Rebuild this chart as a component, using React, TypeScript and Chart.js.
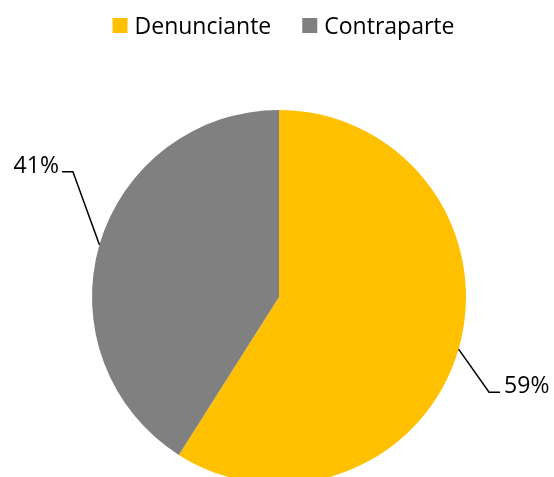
import React, { useEffect, useRef } from "react";
import { Chart, registerables } from "chart.js";

Chart.register(...registerables);

// ---- data ----
const categories = ["Denunciante", "Contraparte"];
const values = [59, 41];
const sliceColors = ["#FFC000", "#808080"];

const FONT = '"Open Sans", "Noto Sans", sans-serif';

// leader-line geometry per slice (layout only)
const leaderLayout = [
  { dx: 30.5, dy: 43, h: 11 },
  { dx: -26.5, dy: -73, h: -11 },
];

const topLegend = {
  id: "topLegend",
  afterDraw(chart: any) {
    const ctx = chart.ctx;
    const labels: string[] = chart.data.labels;
    const bg: string[] = chart.data.datasets[0].backgroundColor;
    ctx.save();
    ctx.font = `23px ${FONT}`;
    const box = 15;
    const gapText = 7;
    const gapItem = 31;
    const widths = labels.map((l) => box + gapText + ctx.measureText(l).width);
    const total = widths.reduce((a, b) => a + b, 0) + gapItem * (labels.length - 1);
    let x = chart.width / 2 + 6.5 - total / 2;
    const boxTop = 18;
    const baseline = 33.5;
    labels.forEach((l, i) => {
      ctx.fillStyle = bg[i];
      ctx.fillRect(x, boxTop, box, box);
      ctx.fillStyle = "#000";
      ctx.textBaseline = "alphabetic";
      ctx.textAlign = "left";
      ctx.fillText(l, x + box + gapText, baseline);
      x += widths[i] + gapItem;
    });
    ctx.restore();
  },
};

const leaderLabels = {
  id: "leaderLabels",
  afterDatasetsDraw(chart: any) {
    const ctx = chart.ctx;
    const meta = chart.getDatasetMeta(0);
    const data: number[] = chart.data.datasets[0].data;
    const total = data.reduce((a, b) => a + b, 0);
    ctx.save();
    ctx.font = `23px ${FONT}`;
    ctx.strokeStyle = "#000";
    ctx.fillStyle = "#000";
    ctx.lineWidth = 1.5;
    meta.data.forEach((arc: any, i: number) => {
      const p = arc.getProps(["x", "y", "startAngle", "endAngle", "outerRadius"], true);
      const mid = (p.startAngle + p.endAngle) / 2;
      const ex = p.x + p.outerRadius * Math.cos(mid);
      const ey = p.y + p.outerRadius * Math.sin(mid);
      const o = leaderLayout[i];
      const bx = ex + o.dx;
      const by = ey + o.dy;
      const cx = bx + o.h;
      ctx.beginPath();
      ctx.moveTo(ex, ey);
      ctx.lineTo(bx, by);
      ctx.lineTo(cx, by);
      ctx.stroke();
      const txt = Math.round((data[i] / total) * 100) + "%";
      ctx.textBaseline = "alphabetic";
      if (o.h > 0) {
        ctx.textAlign = "left";
        ctx.fillText(txt, cx + 4, by + 1);
      } else {
        ctx.textAlign = "right";
        ctx.fillText(txt, cx - 3, by + 1);
      }
    });
    ctx.restore();
  },
};

export default function App() {
  const ref = useRef<HTMLCanvasElement | null>(null);
  useEffect(() => {
    if (!ref.current) return;
    const chart = new Chart(ref.current, {
      type: "pie",
      data: {
        labels: categories,
        datasets: [
          {
            data: values,
            backgroundColor: sliceColors,
            borderWidth: 0,
            hoverOffset: 0,
            offset: 0,
          },
        ],
      },
      options: {
        responsive: false,
        animation: false,
        devicePixelRatio: 1,
        radius: 187,
        layout: { padding: { left: 92, right: 88, top: 117, bottom: 0 } },
        plugins: {
          legend: { display: false },
          tooltip: { enabled: false },
        },
      },
      plugins: [topLegend, leaderLabels],
    });
    return () => chart.destroy();
  }, []);
  return (
    <div style={{ position: "fixed", left: 0, top: 0, width: 554, height: 477, background: "#fff" }}>
      <canvas ref={ref} width={554} height={477} style={{ display: "block" }} />
    </div>
  );
}
